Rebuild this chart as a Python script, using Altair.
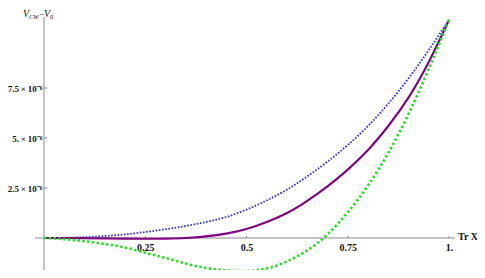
import altair as alt
import pandas as pd

# Data (y values in units of 1e-6)
x_vals = [0.0, 0.05, 0.1, 0.15, 0.2, 0.25, 0.3, 0.35, 0.4, 0.45, 0.5,
          0.55, 0.6, 0.65, 0.7, 0.75, 0.8, 0.85, 0.9, 0.95, 1.0]
blue_vals = [0.0, 0.01, 0.04, 0.10, 0.18, 0.30, 0.44, 0.60, 0.80, 1.05, 1.42,
             1.88, 2.42, 3.08, 3.82, 4.65, 5.60, 6.72, 7.98, 9.40, 10.9]
purple_vals = [0.0, 0.0, -0.01, -0.02, -0.03, -0.04, -0.03, 0.0, 0.08, 0.22, 0.45,
               0.80, 1.25, 1.86, 2.58, 3.42, 4.40, 5.60, 7.02, 8.80, 10.9]
green_vals = [0.0, -0.06, -0.16, -0.30, -0.47, -0.74, -1.00, -1.28, -1.50, -1.62, -1.65,
              -1.52, -1.17, -0.62, 0.18, 1.28, 2.62, 4.25, 6.20, 8.45, 10.9]

y_ticks = [2.5e-6, 5e-6, 7.5e-6]
x_ticks = [0.25, 0.5, 0.75, 1.0]

W, H = 469, 262
xs = alt.Scale(domain=[-0.08889, 1.06914], nice=False, zero=False)
ys = alt.Scale(domain=[-1.6e-6, 11.5e-6], nice=False, zero=False)

FONT = "Liberation Serif"

x_axis = alt.Axis(values=x_ticks, labelExpr="datum.value == 1 ? '1.' : format(datum.value, '.2~f')",
                  offset=-32, domain=False, ticks=False, grid=False, title=None,
                  labelFont=FONT, labelFontSize=10, labelFontWeight="bold", labelColor="#111",
                  labelPadding=4, labelFlush=False, labelOverlap=False)
y_axis = alt.Axis(values=y_ticks,
                  labelExpr="datum.value < 3e-6 ? '2.5\u2009×\u200910⁻⁶' : (datum.value < 6e-6 ? '5.\u2009×\u200910⁻⁶' : '7.5\u2009×\u200910⁻⁶')",
                  offset=-36, domain=False, ticks=False, grid=False, title=None,
                  labelFont=FONT, labelFontSize=9, labelFontWeight="bold", labelColor="#111",
                  labelPadding=2, labelFlush=False, labelOverlap=False)

rows = []
for name, vals in [("blue", blue_vals), ("purple", purple_vals), ("green", green_vals)]:
    for xv, yv in zip(x_vals, vals):
        rows.append({"x": xv, "y": yv * 1e-6, "series": name})
df = pd.DataFrame(rows)

X = alt.X("x:Q", scale=xs, axis=x_axis)
Y = alt.Y("y:Q", scale=ys, axis=y_axis)

# axis lines
axes_df = pd.DataFrame({
    "x": [-0.022, 0.0], "x2": [1.015, 0.0],
    "y": [0.0, -1.6e-6], "y2": [0.0, 11.05e-6],
})
axis_lines = alt.Chart(axes_df).mark_rule(color="#8a8a8a", strokeWidth=1).encode(
    x=X, x2="x2:Q", y=Y, y2="y2:Q")

yt_df = pd.DataFrame({"x": [0.0] * 3, "x2": [0.008] * 3, "y": y_ticks})
ytick_rules = alt.Chart(yt_df).mark_rule(color="#8a8a8a", strokeWidth=1).encode(
    x=X, x2="x2:Q", y=Y)
xt_df = pd.DataFrame({"x": x_ticks, "y": [0.0] * 4, "y2": [0.1e-6] * 4})
xtick_rules = alt.Chart(xt_df).mark_rule(color="#8a8a8a", strokeWidth=1).encode(
    x=X, y=Y, y2="y2:Q")

blue = alt.Chart(df[df.series == "blue"]).mark_line(
    color="#2828f0", strokeWidth=1.8, strokeDash=[1.6, 1.6], interpolate="natural").encode(x=X, y=Y)
purple = alt.Chart(df[df.series == "purple"]).mark_line(
    color="#800080", strokeWidth=2.1, interpolate="natural").encode(x=X, y=Y)
green = alt.Chart(df[df.series == "green"]).mark_line(
    color="#1ee01e", strokeWidth=2.6, strokeDash=[2.4, 2.4], interpolate="natural").encode(x=X, y=Y)

xlabel = alt.Chart(pd.DataFrame({"t": ["Tr X"]})).mark_text(
    font=FONT, fontSize=10, fontWeight="bold", align="left", baseline="middle", color="#111").encode(
    x=alt.value(450), y=alt.value(229), text="t:N")


def title_piece(text, px, py, size, italic):
    kw = dict(font=FONT, fontSize=size, align="left", baseline="middle", color="#111")
    if italic:
        kw["fontStyle"] = "italic"
    return alt.Chart(pd.DataFrame({"t": [text]})).mark_text(**kw).encode(
        x=alt.value(px), y=alt.value(py), text="t:N")


tV = title_piece("V", 15, 6, 10, True)
tCW = title_piece("CW", 21, 9, 6.5, True)
tMinus = title_piece("−", 31, 6, 9, False)
tV0 = title_piece("V", 36, 6, 10, True)
t0 = title_piece("0", 42, 9, 6.5, False)

chart = alt.layer(
    axis_lines, ytick_rules, xtick_rules, blue, purple, green,
    xlabel, tV, tCW, tMinus, tV0, t0,
).properties(
    width=W, height=H, autosize=alt.AutoSizeParams(type="none"), padding=0, background="white"
).configure_view(stroke=None)

chart.save("out.html", embed_options={"renderer": "svg", "actions": False})
